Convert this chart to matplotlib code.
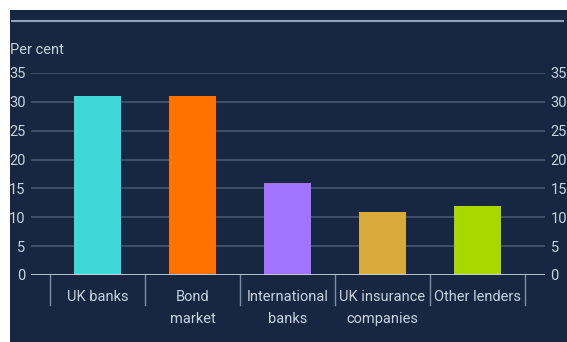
import matplotlib.pyplot as plt
import matplotlib.patches as mpatches
import numpy as np

categories = ["UK banks", "Bond\nmarket", "International\nbanks", "UK insurance\ncompanies", "Other lenders"]
shares = [31, 31, 16, 11, 12]
bar_colors = ["#3ed8d8", "#ff7200", "#a374ff", "#d8aa3c", "#a8d800"]
yticks = [0, 5, 10, 15, 20, 25, 30, 35]

bg = "#172742"
txt = "#c9d2de"
plt.rcParams['font.family'] = ['Roboto', 'DejaVu Sans']

fig = plt.figure(figsize=(5.67, 3.42), dpi=100)
fig.patch.set_facecolor("white")
W, H = 567, 342
fig.add_artist(mpatches.Rectangle((10 / W, 0), 1, 1 - 10 / H, transform=fig.transFigure,
                                  facecolor=bg, edgecolor="none", zorder=-10))
# top rule
fig.add_artist(plt.Line2D([12 / W, 563 / W], [1 - 21 / H, 1 - 21 / H], transform=fig.transFigure,
                          color="#8fa3bd", lw=1.5))

ax = fig.add_axes([31 / W, 1 - 275 / H, (545 - 31) / W, (275 - 73) / H])
ax.set_facecolor(bg)
x = np.arange(len(categories))
ax.bar(x, shares, width=0.5, color=bar_colors, zorder=3)
ax.set_xlim(-0.5 - 19 / 95, 4.5 + 20 / 95)
ax.set_ylim(0, 35)
ax.set_yticks(yticks)
for y in yticks[1:]:
    ax.axhline(y, color="#45566e", lw=1.2, zorder=1)
ax.axhline(0, color="#c8d0dc", lw=2, zorder=4)
for s in ax.spines.values():
    s.set_visible(False)
ax.tick_params(axis="y", length=0, colors=txt, labelsize=10.5, pad=4,
               labelleft=True, labelright=True)
ax.set_xticks([])
for i, c in enumerate(categories):
    ax.text(i, -2.6, c, ha="center", va="top", color=txt, fontsize=10.5, linespacing=1.75)
for b in np.arange(-0.5, 5, 1.0):
    ax.plot([b, b], [0, -5.2], color="#7f8ea3", lw=1, clip_on=False)
fig.text(10 / W, 1 - 50 / H, "Per cent", color=txt, fontsize=10.5, va="center", ha="left")

fig.savefig("out.png", dpi=100, facecolor="white")
